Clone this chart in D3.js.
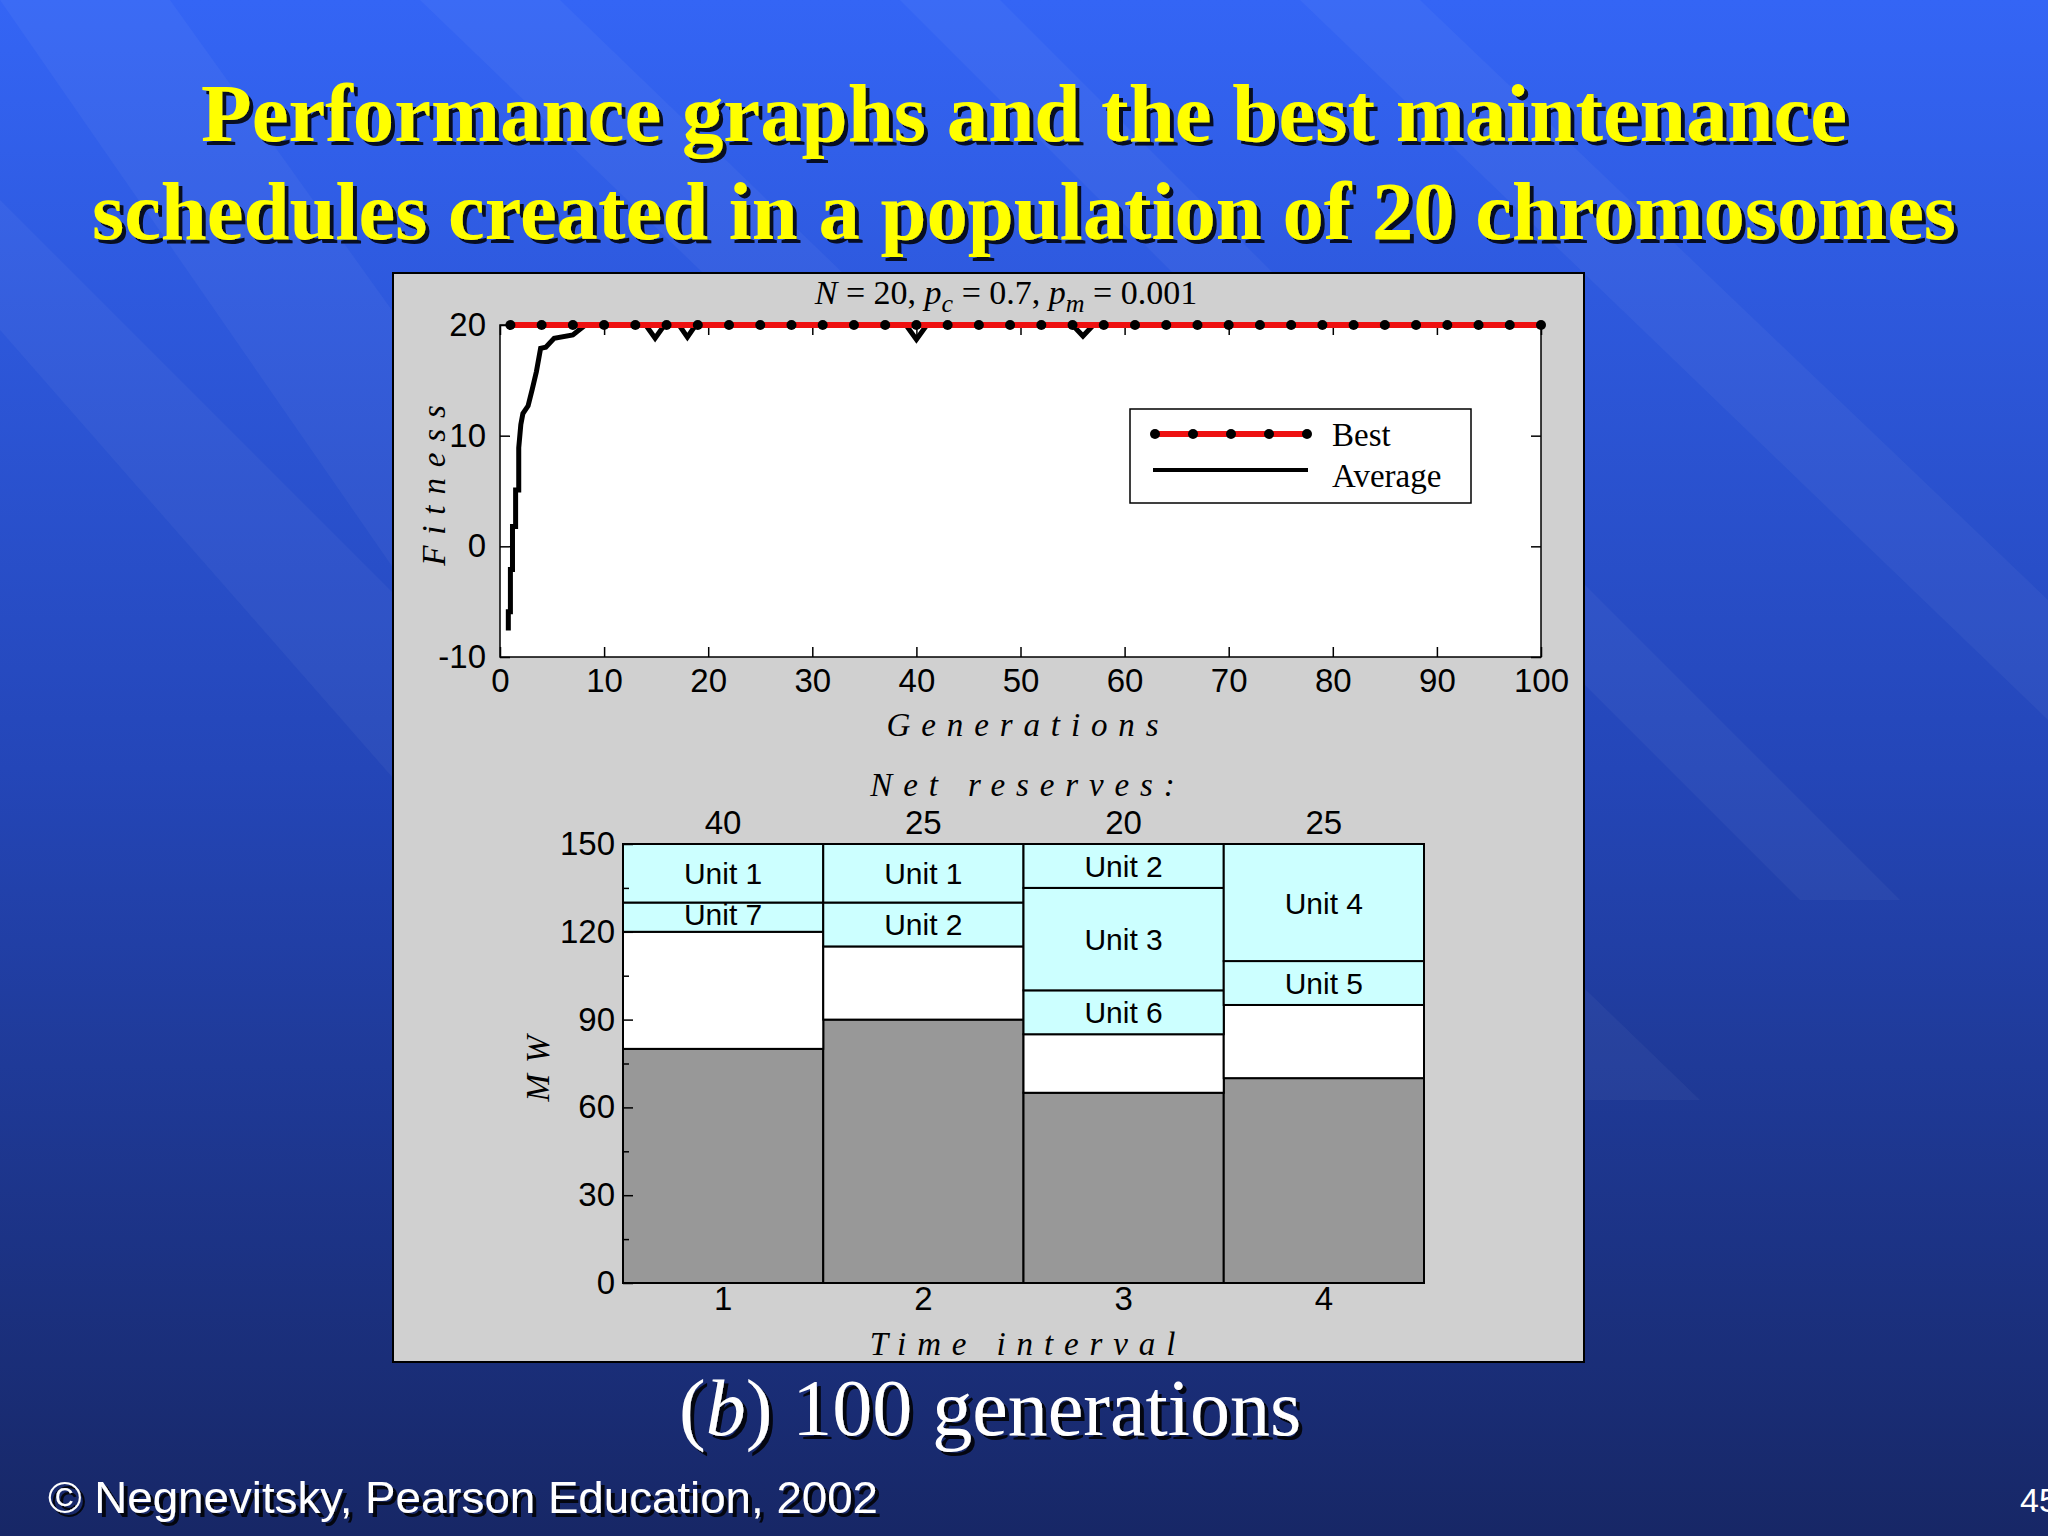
<!DOCTYPE html>
<html>
<head>
<meta charset="utf-8">
<script src="https://cdn.jsdelivr.net/npm/d3@7"></script>
<style>
  body { margin: 0; background: #1c2f80; }
  svg { display: block; }
</style>
</head>
<body>
<svg width="2048" height="1536"></svg>
<script>
// fitness data
const bestGenerations = d3.range(1, 101, 3);
const bestValue = 20;
const avgGenerations = [0.8, 0.8, 1.0, 1.0, 1.2, 1.2, 1.5, 1.5, 1.8, 1.8, 2.0, 2.2, 2.7, 3.1, 3.5, 3.9, 4.4, 5.2, 7.0, 7.8, 8.2,
  14, 14.9, 15.8, 17.2, 18, 18.8, 39, 40, 41, 55, 56, 57, 100];
const avgFitness = [-7.6, -5.9, -5.9, -2.1, -2.1, 1.8, 1.8, 5.1, 5.1, 8.9, 11, 12, 12.7, 14.2, 15.8, 17.9, 18, 18.8, 19.1, 19.7, 20,
  20, 18.8, 20, 20, 18.9, 20, 20, 18.7, 20, 20, 19.0, 20, 20];
const fitnessTicks = [-10, 0, 10, 20];
const generationTicks = d3.range(0, 101, 10);

// maintenance schedule data
const intervals = ["1", "2", "3", "4"];
const netReserves = [40, 25, 20, 25];
const baseLoad = [80, 90, 65, 70];
const freeTop = [120, 115, 85, 95];
const unitBlocks = [
  { interval: "1", name: "Unit 7", from: 120, to: 130 },
  { interval: "1", name: "Unit 1", from: 130, to: 150 },
  { interval: "2", name: "Unit 2", from: 115, to: 130 },
  { interval: "2", name: "Unit 1", from: 130, to: 150 },
  { interval: "3", name: "Unit 6", from: 85, to: 100 },
  { interval: "3", name: "Unit 3", from: 100, to: 135 },
  { interval: "3", name: "Unit 2", from: 135, to: 150 },
  { interval: "4", name: "Unit 5", from: 95, to: 110 },
  { interval: "4", name: "Unit 4", from: 110, to: 150 }
];
const mwTicks = [0, 30, 60, 90, 120, 150];

const svg = d3.select("svg");
const serif = "'Liberation Serif', 'Times New Roman', serif";
const sans = "'Liberation Sans', Arial, sans-serif";

// background
const defs = svg.append("defs");
const grad = defs.append("linearGradient").attr("id", "bg").attr("x1", 0).attr("y1", 0).attr("x2", 0).attr("y2", 1);
grad.append("stop").attr("offset", 0).attr("stop-color", "#3465f5");
grad.append("stop").attr("offset", 0.5).attr("stop-color", "#2446b8");
grad.append("stop").attr("offset", 1).attr("stop-color", "#172766");
const sh = defs.append("filter").attr("id", "shadow");
sh.append("feDropShadow").attr("dx", 4).attr("dy", 4).attr("stdDeviation", 0).attr("flood-color", "#000").attr("flood-opacity", 0.85);
svg.append("rect").attr("width", 2048).attr("height", 1536).attr("fill", "url(#bg)");
const stripes = [[0, 0, 170, 0, 1100, 1300, 900, 1300], [420, 0, 560, 0, 1700, 1100, 1560, 1100],
  [900, 0, 1000, 0, 1900, 900, 1800, 900], [1300, 0, 1420, 0, 2048, 600, 2048, 720], [0, 200, 0, 330, 500, 900, 600, 800]];
svg.selectAll("polygon.stripe").data(stripes).enter().append("polygon")
  .attr("points", p => [[p[0], p[1]], [p[2], p[3]], [p[4], p[5]], [p[6], p[7]]].join(" "))
  .attr("fill", "#ffffff").attr("opacity", 0.04);

// title
const title = ["Performance graphs and the best maintenance", "schedules created in a population of 20 chromosomes"];
svg.selectAll("text.title").data(title).enter().append("text")
  .attr("x", 1024).attr("y", (d, i) => 141 + i * 98)
  .attr("text-anchor", "middle").attr("font-family", serif).attr("font-weight", "bold")
  .attr("font-size", 82).attr("textLength", (d, i) => i === 0 ? 1646 : 1864).attr("lengthAdjust", "spacingAndGlyphs")
  .attr("fill", "#ffff00").attr("filter", "url(#shadow)").text(d => d);

// panel
svg.append("rect").attr("x", 393).attr("y", 273).attr("width", 1191).attr("height", 1089)
  .attr("fill", "#d0d0d0").attr("stroke", "#000").attr("stroke-width", 2);

// ---------- top chart ----------
const tx = d3.scaleLinear().domain([0, 100]).range([500, 1541]);
const ty = d3.scaleLinear().domain([-10, 20]).range([657, 325]);
svg.append("rect").attr("x", 500).attr("y", 325).attr("width", 1041).attr("height", 332).attr("fill", "#fff");

function styleAxis(g, size) {
  g.select(".domain").remove();
  g.selectAll("line").attr("stroke", "#000").attr("stroke-width", 1.5);
  g.selectAll("text").attr("font-family", sans).attr("font-size", size).attr("fill", "#000");
}
svg.append("g").attr("transform", "translate(0,657)")
  .call(d3.axisBottom(tx).tickValues(generationTicks).tickSizeInner(-10).tickPadding(12))
  .call(g => styleAxis(g, 33));
svg.append("g").attr("transform", "translate(0,325)")
  .call(d3.axisTop(tx).tickValues(generationTicks).tickSizeInner(-10).tickFormat(""))
  .call(g => styleAxis(g, 33));
svg.append("g").attr("transform", "translate(500,0)")
  .call(d3.axisLeft(ty).tickValues(fitnessTicks).tickSizeInner(-10).tickPadding(14).tickFormat(d => String(d)))
  .call(g => styleAxis(g, 33));
svg.append("g").attr("transform", "translate(1541,0)")
  .call(d3.axisRight(ty).tickValues(fitnessTicks).tickSizeInner(-10).tickFormat(""))
  .call(g => styleAxis(g, 33));
svg.append("rect").attr("x", 500).attr("y", 325).attr("width", 1041).attr("height", 332)
  .attr("fill", "none").attr("stroke", "#000").attr("stroke-width", 1.5);

const avgPts = avgGenerations.map((g, i) => [g, avgFitness[i]]);
svg.append("path").datum(avgPts)
  .attr("d", d3.line().x(d => tx(d[0])).y(d => ty(d[1])))
  .attr("fill", "none").attr("stroke", "#000").attr("stroke-width", 5);
svg.append("path").datum(bestGenerations)
  .attr("d", d3.line().x(d => tx(d)).y(() => ty(bestValue)))
  .attr("fill", "none").attr("stroke", "#ee1111").attr("stroke-width", 6);
svg.selectAll("circle.best").data(bestGenerations).enter().append("circle")
  .attr("cx", d => tx(d)).attr("cy", ty(bestValue)).attr("r", 5).attr("fill", "#000");

const param = svg.append("text").attr("x", 1006).attr("y", 304).attr("text-anchor", "middle")
  .attr("font-family", serif).attr("font-size", 34).attr("fill", "#000");
param.append("tspan").attr("font-style", "italic").text("N");
param.append("tspan").text(" = 20,  ");
param.append("tspan").attr("font-style", "italic").text("p");
param.append("tspan").attr("font-style", "italic").attr("font-size", 26).attr("dy", 8).text("c");
param.append("tspan").attr("dy", -8).text(" = 0.7,  ");
param.append("tspan").attr("font-style", "italic").text("p");
param.append("tspan").attr("font-style", "italic").attr("font-size", 26).attr("dy", 8).text("m");
param.append("tspan").attr("dy", -8).text(" = 0.001");

// legend
svg.append("rect").attr("x", 1130).attr("y", 409).attr("width", 341).attr("height", 94)
  .attr("fill", "#fff").attr("stroke", "#000").attr("stroke-width", 1.5);
svg.append("line").attr("x1", 1153).attr("x2", 1308).attr("y1", 434).attr("y2", 434)
  .attr("stroke", "#ee1111").attr("stroke-width", 6);
svg.selectAll("circle.leg").data([0, 1, 2, 3, 4]).enter().append("circle")
  .attr("cx", d => 1155 + d * 38).attr("cy", 434).attr("r", 5).attr("fill", "#000");
svg.append("line").attr("x1", 1153).attr("x2", 1308).attr("y1", 470).attr("y2", 470)
  .attr("stroke", "#000").attr("stroke-width", 4);
svg.selectAll("text.leg").data(["Best", "Average"]).enter().append("text")
  .attr("x", 1332).attr("y", (d, i) => 446 + i * 41)
  .attr("font-family", serif).attr("font-size", 33).attr("fill", "#000").text(d => d);

function spacedLabel(text, x, y, rotate) {
  const t = svg.append("text").attr("text-anchor", "middle").attr("font-family", serif)
    .attr("font-style", "italic").attr("font-size", 33).attr("letter-spacing", "0.33em").attr("fill", "#000").text(text);
  if (rotate) t.attr("transform", `translate(${x},${y}) rotate(-90)`);
  else t.attr("x", x).attr("y", y);
}
spacedLabel("Generations", 1028, 736, false);
spacedLabel("Fitness", 445, 480, true);

// ---------- bottom chart ----------
const bx = d3.scaleBand().domain(intervals).range([623, 1424]);
const by = d3.scaleLinear().domain([0, 150]).range([1283, 844]);
const bw = bx.bandwidth();

svg.selectAll("rect.base").data(intervals).enter().append("rect")
  .attr("x", d => bx(d)).attr("width", bw)
  .attr("y", (d, i) => by(baseLoad[i])).attr("height", (d, i) => by(0) - by(baseLoad[i]))
  .attr("fill", "#989898").attr("stroke", "#000").attr("stroke-width", 2);
svg.selectAll("rect.free").data(intervals).enter().append("rect")
  .attr("x", d => bx(d)).attr("width", bw)
  .attr("y", (d, i) => by(freeTop[i])).attr("height", (d, i) => by(baseLoad[i]) - by(freeTop[i]))
  .attr("fill", "#fff").attr("stroke", "#000").attr("stroke-width", 2);
svg.selectAll("rect.unit").data(unitBlocks).enter().append("rect")
  .attr("x", d => bx(d.interval)).attr("width", bw)
  .attr("y", d => by(d.to)).attr("height", d => by(d.from) - by(d.to))
  .attr("fill", "#ccffff").attr("stroke", "#000").attr("stroke-width", 2);
svg.selectAll("text.unit").data(unitBlocks).enter().append("text")
  .attr("x", d => bx(d.interval) + bw / 2)
  .attr("y", d => (d.to - d.from) <= 10 ? by(d.to) + 22 : (by(d.to) + by(d.from)) / 2 + 11)
  .attr("text-anchor", "middle").attr("font-family", sans).attr("font-size", 30).attr("fill", "#000").text(d => d.name);

svg.append("g").attr("transform", "translate(623,0)")
  .call(d3.axisLeft(by).tickValues(mwTicks).tickSizeInner(-10).tickPadding(8))
  .call(g => styleAxis(g, 33));
svg.append("g").attr("transform", "translate(623,0)")
  .call(d3.axisLeft(by).tickValues([15, 45, 75, 105, 135]).tickSizeInner(-6).tickFormat(""))
  .call(g => styleAxis(g, 33));
svg.append("g").attr("transform", "translate(0,1283)")
  .call(d3.axisBottom(bx).tickSize(0).tickPadding(4))
  .call(g => styleAxis(g, 33));
svg.append("g").attr("transform", "translate(0,844)")
  .call(d3.axisTop(bx).tickSize(0).tickPadding(10).tickFormat((d, i) => netReserves[i]))
  .call(g => styleAxis(g, 33));
svg.append("line").attr("x1", 623).attr("x2", 623).attr("y1", 844).attr("y2", 1283).attr("stroke", "#000").attr("stroke-width", 2);

spacedLabel("Net reserves:", 1028, 796, false);
spacedLabel("Time interval", 1028, 1355, false);
spacedLabel("MW", 549, 1063, true);

// caption and footer
const cap = svg.append("text").attr("x", 990).attr("y", 1435).attr("text-anchor", "middle")
  .attr("font-family", serif).attr("font-size", 80).attr("fill", "#fff").attr("filter", "url(#shadow)");
cap.append("tspan").text("(");
cap.append("tspan").attr("font-style", "italic").text("b");
cap.append("tspan").text(")  100 generations");
svg.append("text").attr("x", 48).attr("y", 1513).attr("font-family", sans).attr("font-size", 45)
  .attr("textLength", 830).attr("lengthAdjust", "spacingAndGlyphs")
  .attr("fill", "#fff").attr("filter", "url(#shadow)").text("© Negnevitsky, Pearson Education, 2002");
svg.append("text").attr("x", 2020).attr("y", 1512).attr("font-family", sans).attr("font-size", 34)
  .attr("fill", "#fff").text("45");
</script>
</body>
</html>
